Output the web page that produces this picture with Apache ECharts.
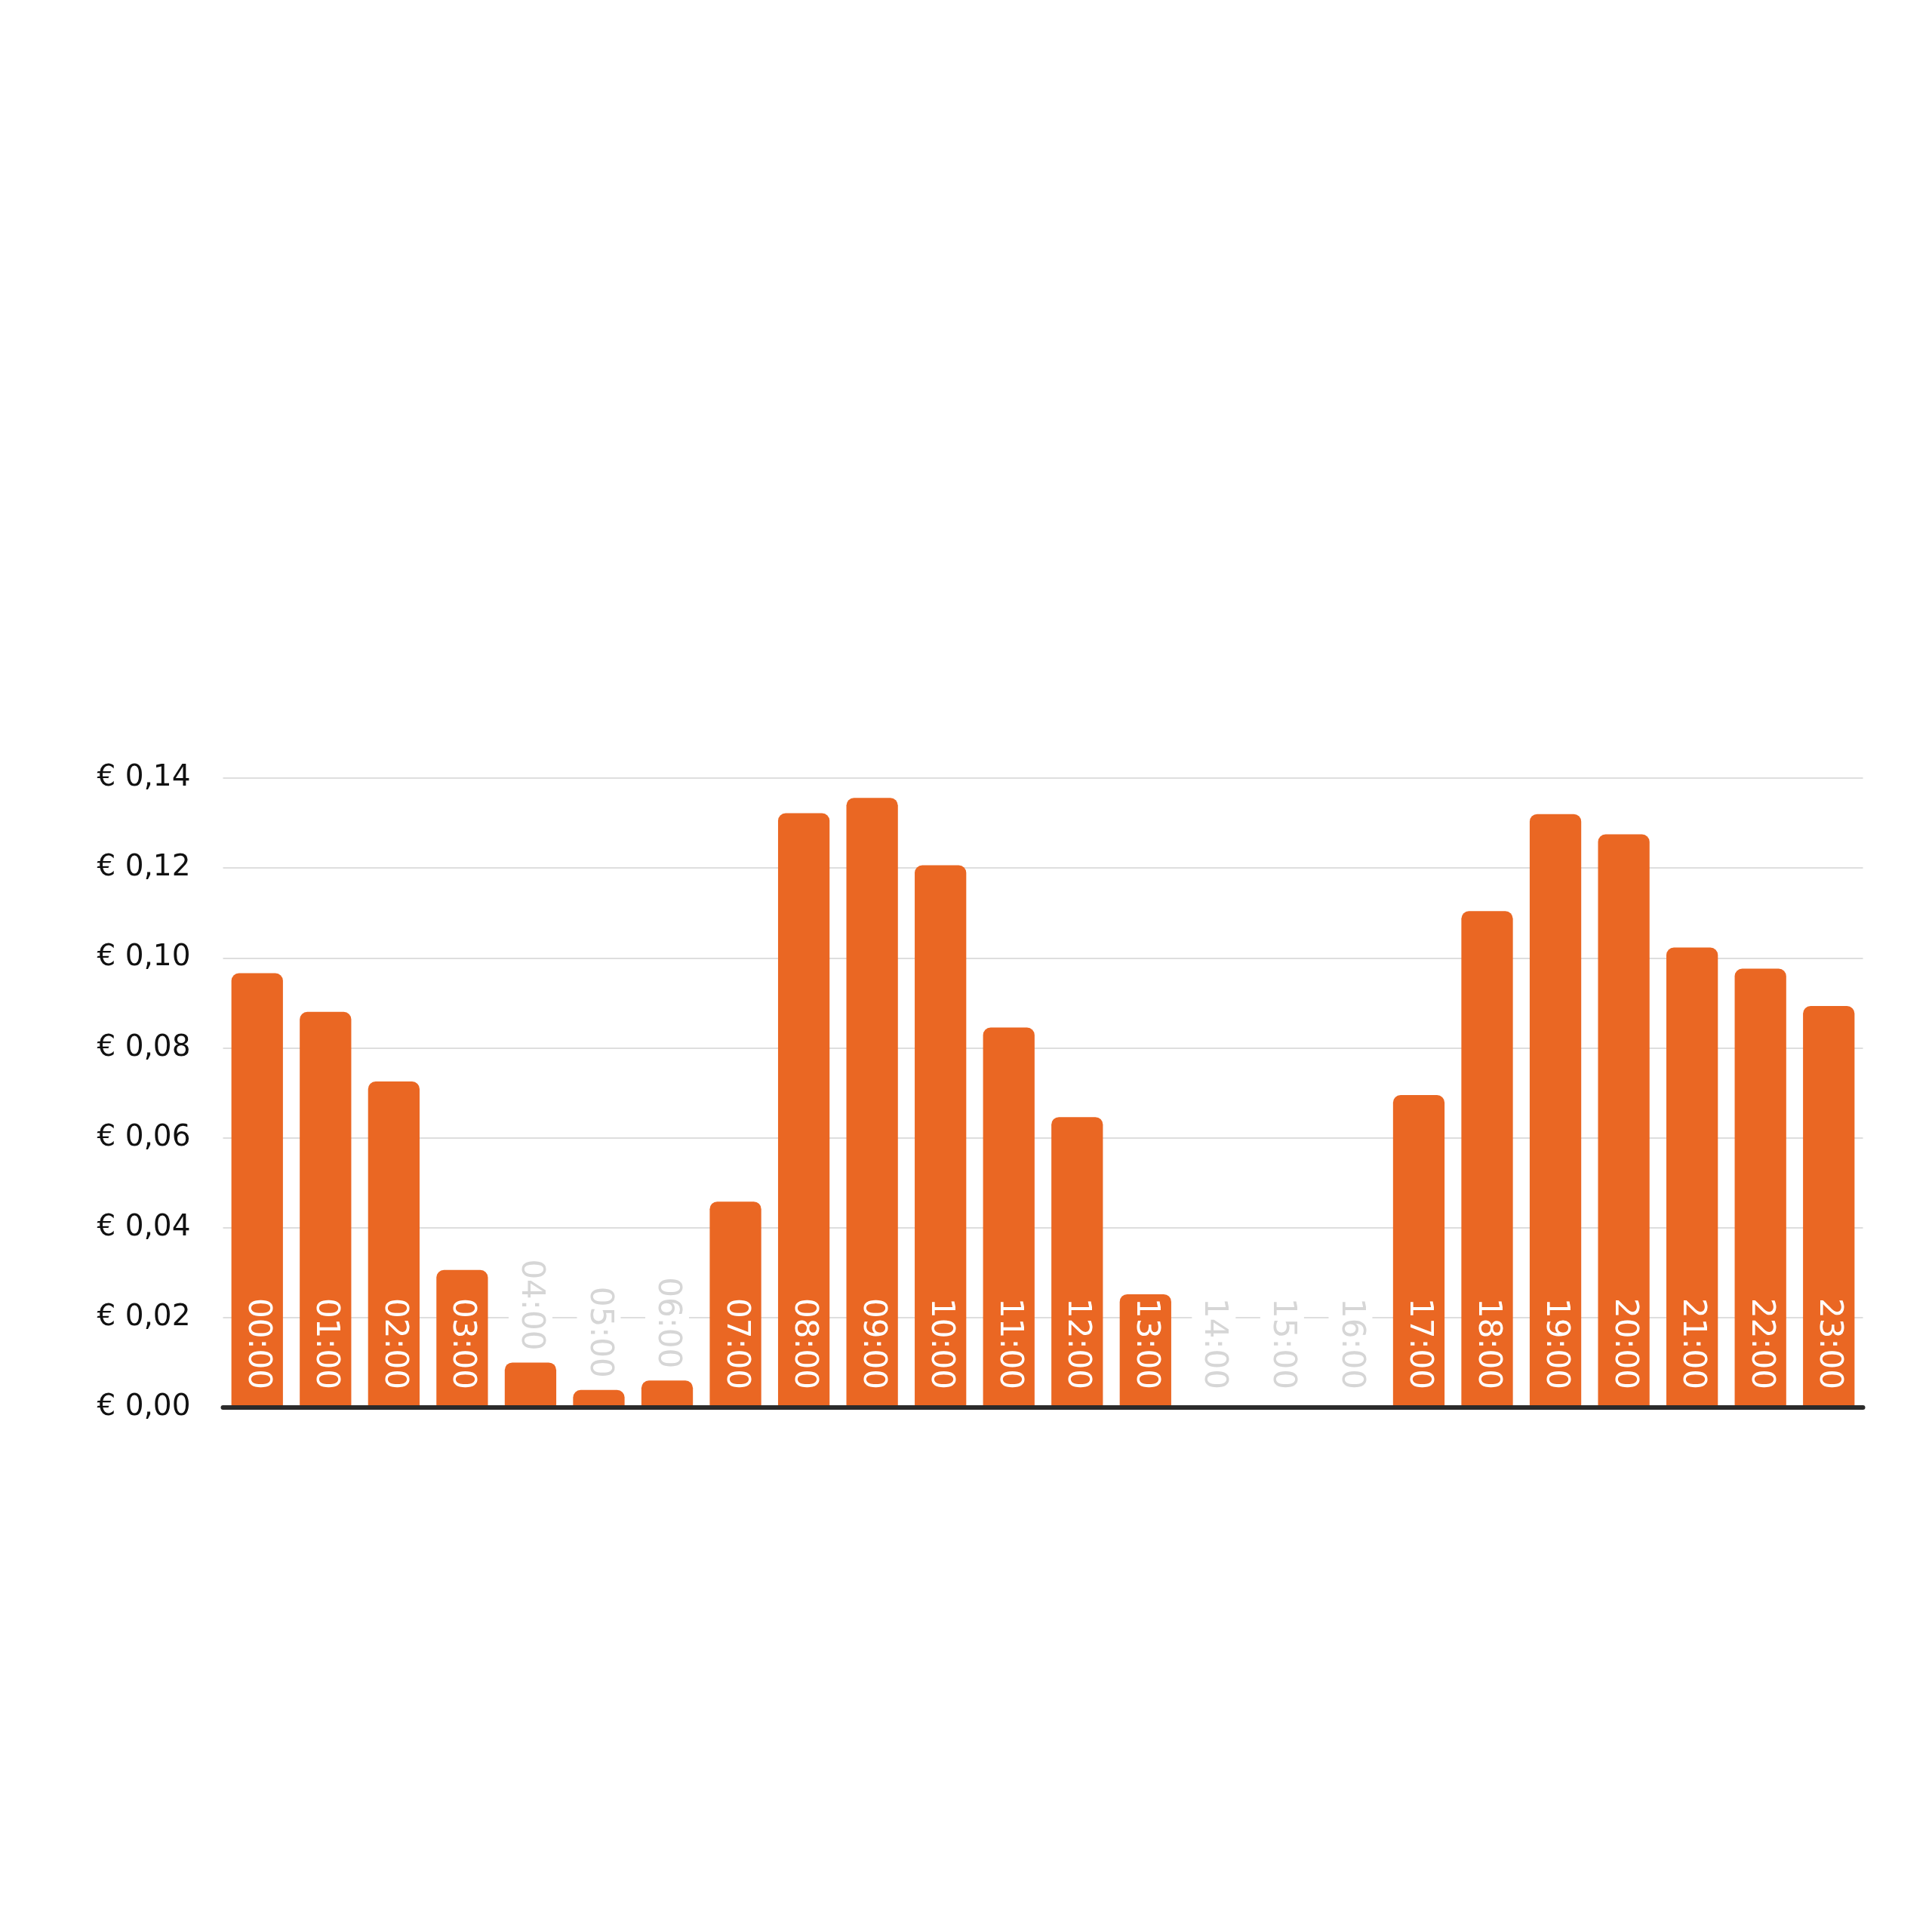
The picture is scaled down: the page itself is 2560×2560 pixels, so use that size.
<!DOCTYPE html>
<html>
<head>
<meta charset="utf-8">
<script src="https://cdn.jsdelivr.net/npm/echarts@6/dist/echarts.min.js"></script>
<style>
html,body{margin:0;padding:0;background:#fff;}
#chart{width:2560px;height:2560px;}
</style>
</head>
<body>
<div id="chart"></div>
<script>
const hours = ['00:00','01:00','02:00','03:00','04:00','05:00','06:00','07:00','08:00','09:00','10:00','11:00',
               '12:00','13:00','14:00','15:00','16:00','17:00','18:00','19:00','20:00','21:00','22:00','23:00'];
const prices = [0.0966, 0.0880, 0.0725, 0.0306, 0.0100, 0.0039, 0.0060, 0.0458, 0.1322, 0.1356, 0.1206, 0.0845,
                0.0646, 0.0252, 0, 0, 0, 0.0695, 0.1104, 0.1320, 0.1275, 0.1023, 0.0976, 0.0893];
const yTickLabels = ['€ 0,00','€ 0,02','€ 0,04','€ 0,06','€ 0,08','€ 0,10','€ 0,12','€ 0,14'];

const FONT = 'DejaVu Sans';
const ORANGE = '#EA6723';
const GREY = '#d6d6d6';

function labelFor(v) {
  if (v >= 0.02) {
    return { position: 'insideBottom', distance: 24, color: '#ffffff' };
  }
  if (v === 0) {
    return { position: 'insideBottom', distance: 20, color: GREY, backgroundColor: '#ffffff', padding: [8, 4, 8, 4] };
  }
  return { position: 'top', distance: 12, color: GREY, backgroundColor: '#ffffff', padding: [8, 4, 8, 4] };
}

const chart = echarts.init(document.getElementById('chart'), null, { renderer: 'canvas' });
chart.setOption({
  backgroundColor: '#ffffff',
  animation: false,
  grid: { left: 295.5, right: 91.5, top: 1031, bottom: 695, containLabel: false },
  xAxis: {
    type: 'category',
    data: hours,
    z: 10,
    axisLine: { show: true, lineStyle: { color: '#2b2b2b', width: 6, cap: 'round' } },
    axisTick: { show: false },
    axisLabel: { show: false },
    splitLine: { show: false }
  },
  yAxis: {
    type: 'value',
    min: 0,
    max: 0.14,
    interval: 0.02,
    axisLine: { show: false },
    axisTick: { show: false },
    axisLabel: {
      margin: 43,
      fontSize: 39,
      fontFamily: FONT,
      color: '#111111',
      padding: [14, 0, 0, 0],
      formatter: (v) => yTickLabels[Math.round(v / 0.02)]
    },
    splitLine: { show: true, lineStyle: { color: '#dedede', width: 2 } }
  },
  series: [{
    type: 'bar',
    barCategoryGap: '24.6%',
    itemStyle: { color: ORANGE, borderRadius: [10, 10, 0, 0] },
    label: {
      show: true,
      formatter: '{b}',
      rotate: -90,
      align: 'right',
      verticalAlign: 'middle',
      fontSize: 42,
      fontFamily: FONT
    },
    data: prices.map(v => ({ value: v, label: labelFor(v) }))
  }]
});
</script>
</body>
</html>
